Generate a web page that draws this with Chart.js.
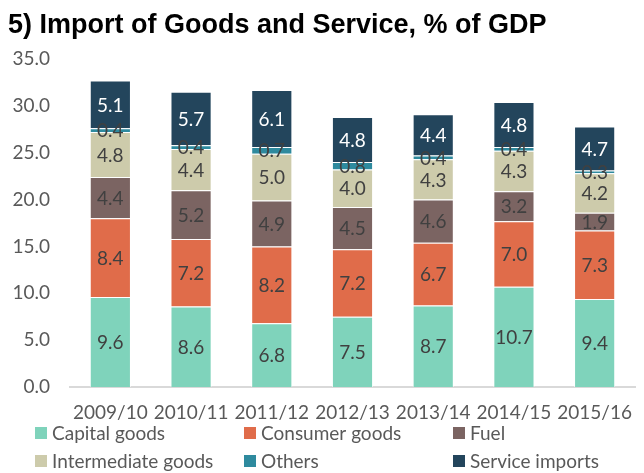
<!DOCTYPE html>
<html>
<head>
<meta charset="utf-8">
<script src="https://cdn.jsdelivr.net/npm/chart.js@4"></script>
<style>
  html, body { margin: 0; padding: 0; background: #fff; overflow: hidden; }
  #wrap { width: 646px; height: 473px; }
</style>
</head>
<body>
<div id="wrap"><canvas id="importChart"></canvas></div>
<script>
const years = ['2009/10', '2010/11', '2011/12', '2012/13', '2013/14', '2014/15', '2015/16'];
const capitalGoods = [9.6, 8.6, 6.8, 7.5, 8.7, 10.7, 9.4];
const consumerGoods = [8.4, 7.2, 8.2, 7.2, 6.7, 7.0, 7.3];
const fuel = [4.4, 5.2, 4.9, 4.5, 4.6, 3.2, 1.9];
const intermediateGoods = [4.8, 4.4, 5.0, 4.0, 4.3, 4.3, 4.2];
const others = [0.4, 0.4, 0.7, 0.8, 0.4, 0.4, 0.3];
const serviceImports = [5.1, 5.7, 6.1, 4.8, 4.4, 4.8, 4.7];
const yTicks = [0, 5, 10, 15, 20, 25, 30, 35];

const fontFamily = 'Lato, "Open Sans", sans-serif';
const textGrey = '#595959';

function series(label, data, color, labelColor) {
    return {
        label: label,
        data: data,
        backgroundColor: color,
        borderColor: 'rgba(255,255,255,0.7)',
        borderWidth: 1,
        labelColor: labelColor,
    };
}

// values inside each segment
const segmentLabels = {
    id: 'segmentLabels',
    afterDatasetsDraw(chart) {
        const ctx = chart.ctx;
        ctx.save();
        ctx.font = '19px ' + fontFamily;
        ctx.textAlign = 'center';
        ctx.textBaseline = 'middle';
        chart.data.datasets.forEach((ds, i) => {
            chart.getDatasetMeta(i).data.forEach((bar, j) => {
                ctx.fillStyle = ds.labelColor;
                ctx.fillText(ds.data[j].toFixed(1), bar.x, (bar.y + bar.base) / 2 + 1);
            });
        });
        ctx.restore();
    }
};

// title and a fixed three-column legend
const titleAndLegend = {
    id: 'titleAndLegend',
    afterDraw(chart) {
        const ctx = chart.ctx;
        ctx.save();
        ctx.fillStyle = '#000';
        ctx.font = 'bold 27px "Liberation Sans", Arial, sans-serif';
        ctx.textBaseline = 'alphabetic';
        ctx.textAlign = 'left';
        ctx.fillText('5) Import of Goods and Service, % of GDP', 8, 33);

        const cols = [35, 244, 453];
        const rows = [433, 461];
        ctx.font = '19px ' + fontFamily;
        ctx.textBaseline = 'middle';
        chart.data.datasets.forEach((ds, i) => {
            const x = cols[i % 3];
            const y = rows[Math.floor(i / 3)];
            ctx.fillStyle = ds.backgroundColor;
            ctx.fillRect(x, y - 6, 12, 12);
            ctx.fillStyle = textGrey;
            ctx.fillText(ds.label, x + 17, y + 1);
        });
        ctx.restore();
    }
};

new Chart(document.getElementById('importChart'), {
    type: 'bar',
    data: {
        labels: years,
        datasets: [
            series('Capital goods', capitalGoods, '#7fd3bb', '#404040'),
            series('Consumer goods', consumerGoods, '#e06c4a', '#404040'),
            series('Fuel', fuel, '#7b6462', '#404040'),
            series('Intermediate goods', intermediateGoods, '#cdcbab', '#404040'),
            series('Others', others, '#2e8a9e', '#404040'),
            series('Service imports', serviceImports, '#23455c', '#ffffff'),
        ]
    },
    options: {
        responsive: true,
        maintainAspectRatio: false,
        animation: false,
        layout: { padding: { top: 59, left: 0, right: 0, bottom: 0 } },
        datasets: { bar: { categoryPercentage: 1, barPercentage: 0.51 } },
        plugins: {
            legend: { display: false },
            tooltip: { enabled: false }
        },
        scales: {
            x: {
                stacked: true,
                grid: { display: false, drawTicks: false },
                border: { color: '#d9d9d9', width: 2 },
                ticks: { color: textGrey, font: { family: fontFamily, size: 19 }, padding: 14, maxRotation: 0 },
                afterFit(scale) { scale.height = 86; }
            },
            y: {
                stacked: true,
                min: 0,
                max: 35,
                afterBuildTicks(scale) { scale.ticks = yTicks.map(v => ({ value: v })); },
                grid: { display: false, drawTicks: false },
                border: { display: false },
                ticks: {
                    color: textGrey,
                    font: { family: fontFamily, size: 19 },
                    padding: 20,
                    callback: v => v.toFixed(1)
                },
                afterFit(scale) { scale.width = 70; }
            }
        }
    },
    plugins: [segmentLabels, titleAndLegend]
});
</script>
</body>
</html>
